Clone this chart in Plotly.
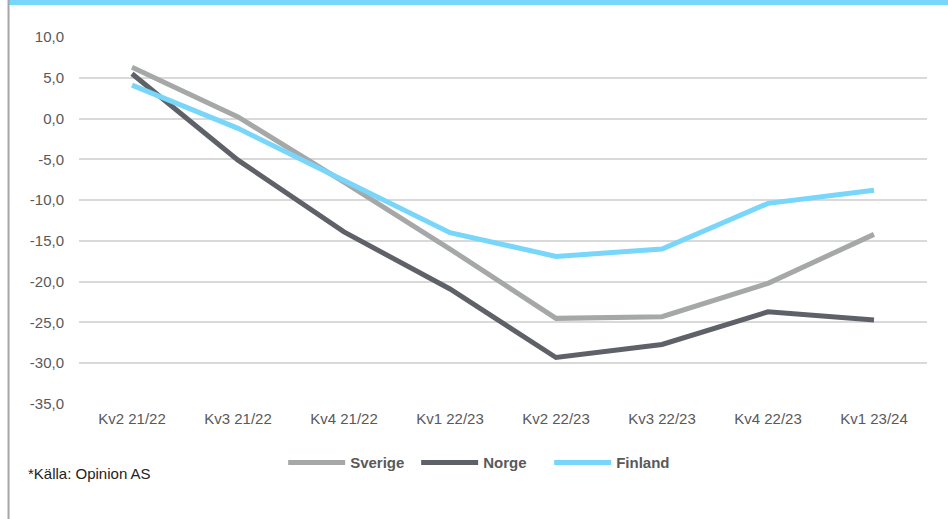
import plotly.graph_objects as go

categories = ["Kv2 21/22", "Kv3 21/22", "Kv4 21/22", "Kv1 22/23",
              "Kv2 22/23", "Kv3 22/23", "Kv4 22/23", "Kv1 23/24"]
sverige = [6.3, 0.2, -7.8, -16.0, -24.5, -24.3, -20.2, -14.2]
norge = [5.5, -5.1, -13.9, -20.9, -29.3, -27.7, -23.7, -24.7]
finland = [4.1, -1.2, -7.6, -14.0, -16.9, -16.0, -10.4, -8.8]
tick_vals = [10, 5, 0, -5, -10, -15, -20, -25, -30, -35]
tick_text = ["10,0", "5,0", "0,0", "-5,0", "-10,0", "-15,0", "-20,0", "-25,0", "-30,0", "-35,0"]

series = [("Sverige", sverige, "#a6a8a8"),
          ("Norge", norge, "#5e6268"),
          ("Finland", finland, "#78d6fa")]

fig = go.Figure()
for name, vals, col in series:
    fig.add_trace(go.Scatter(x=categories, y=vals, name=name, mode="lines",
                             line=dict(color=col, width=5)))

fig.update_layout(
    width=948, height=519,
    margin=dict(l=79, r=21, t=37, b=115),
    paper_bgcolor="white", plot_bgcolor="white",
    font=dict(family="Liberation Sans, Arial, sans-serif", size=15, color="#595959"),
    showlegend=True,
    legend=dict(orientation="h", x=0.476, xanchor="center", y=-0.16, yanchor="middle",
                font=dict(size=15, color="#595959", weight="bold"),
                itemwidth=57, entrywidth=61, tracegroupgap=0),
    xaxis=dict(type="category", range=[-0.5, 7.5], showgrid=False, zeroline=False,
               showline=False, ticks="", ticklabelstandoff=4,
               tickfont=dict(size=15, color="#595959")),
    yaxis=dict(range=[-35, 10], tickvals=tick_vals, ticktext=tick_text,
               showgrid=True, gridcolor="#d9d9d9", gridwidth=1.5, zeroline=False,
               showline=False, ticks="", ticklabelstandoff=14,
               tickfont=dict(size=15, color="#595959")),
    shapes=[
        dict(type="rect", xref="paper", yref="paper", x0=-0.0825, x1=1.03,
             y0=1.0872, y1=1.11, fillcolor="#78d6fa", line=dict(width=0), layer="above"),
        dict(type="line", xref="paper", yref="paper", x0=-0.0831, x1=-0.0831,
             y0=-0.32, y1=1.11, line=dict(color="#a6a6a6", width=2)),
    ],
    annotations=[
        dict(text="*Källa: Opinion AS", xref="paper", yref="paper", x=-0.0625, y=-0.19,
             xanchor="left", yanchor="middle", showarrow=False,
             font=dict(size=15, color="#222222")),
    ],
)

fig.write_html("out.html", config={"displayModeBar": False},
               post_script="document.body.style.margin='0';document.body.style.overflow='hidden';")
